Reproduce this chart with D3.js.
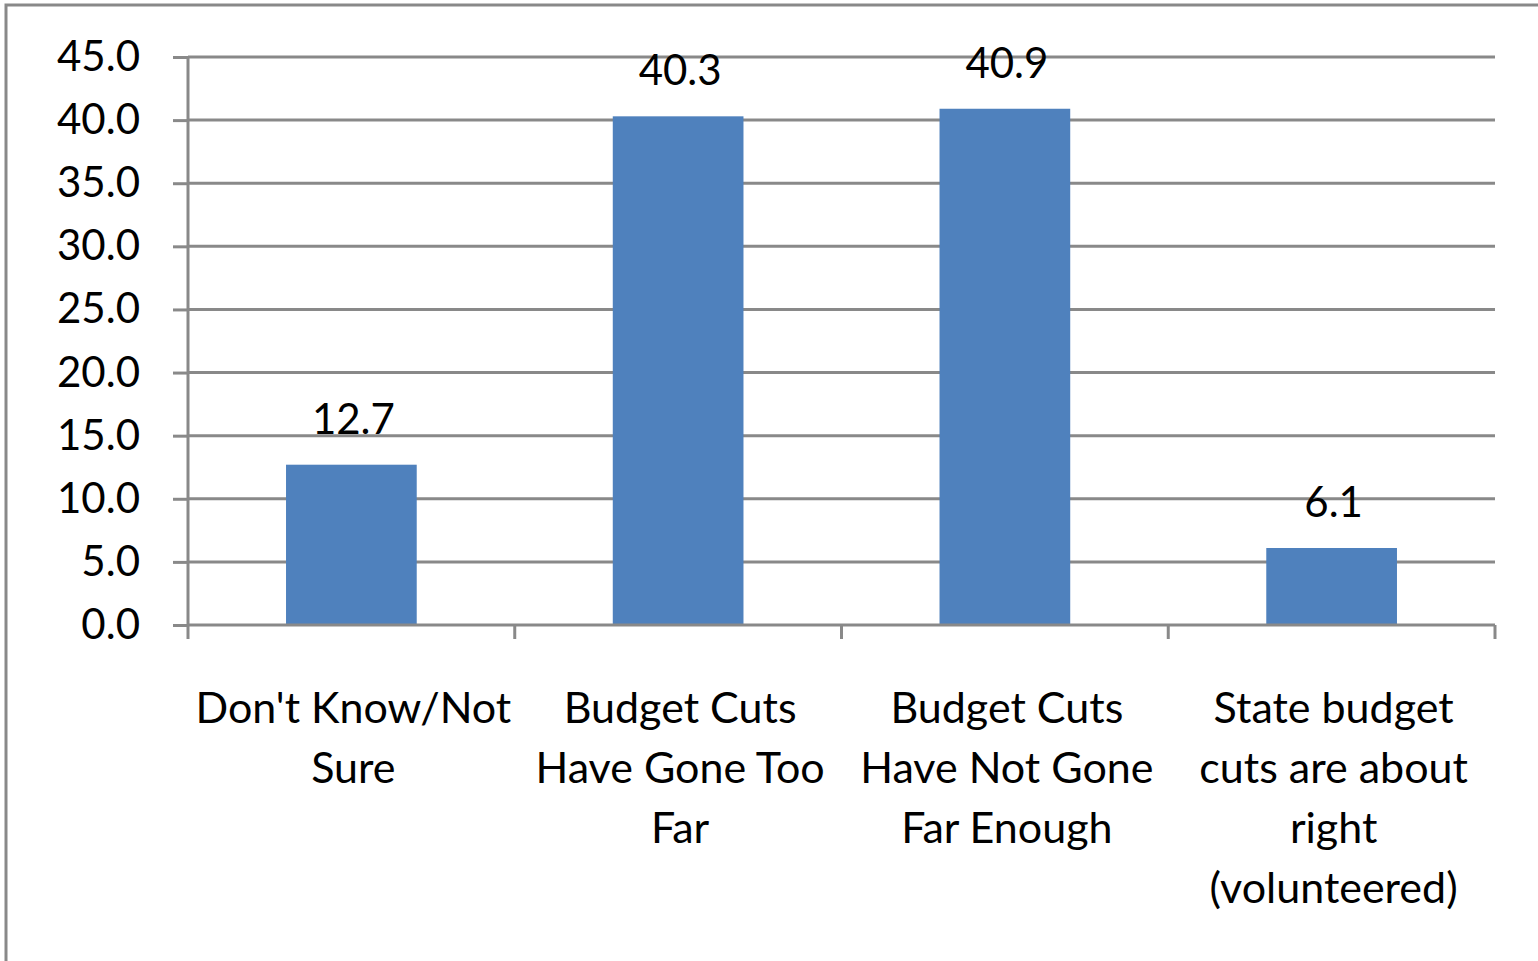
<!DOCTYPE html>
<html><head><meta charset="utf-8">
<script src="https://cdn.jsdelivr.net/npm/d3@7"></script>
<style>body{margin:0;background:#fff}svg{display:block}</style>
</head><body><svg id="c" width="1538" height="961"></svg>
<script>
const categories = [
  ["Don't Know/Not", "Sure"],
  ["Budget Cuts", "Have Gone Too", "Far"],
  ["Budget Cuts", "Have Not Gone", "Far Enough"],
  ["State budget", "cuts are about", "right", "(volunteered)"]
];
const values = [12.7, 40.3, 40.9, 6.1];
const yTicks = [0, 5, 10, 15, 20, 25, 30, 35, 40, 45];

(function () {
const svg = d3.select("#c");
const font = "Lato, 'Open Sans', sans-serif";
const grey = "#898989";
const pL = 188, pR = 1495, pT = 57, pB = 625;

// outer border
svg.append("path").attr("d", "M6,961 V5 H1538").attr("fill", "none")
  .attr("stroke", grey).attr("stroke-width", 3);

const x = d3.scaleBand().domain(d3.range(values.length)).range([pL, pR]).paddingInner(0).paddingOuter(0);
const y = d3.scaleLinear().domain([0, 45]).range([pB, pT]);

// gridlines
svg.append("g").selectAll("line").data(yTicks.filter(d => d > 0)).join("line")
  .attr("x1", pL).attr("x2", pR).attr("y1", d => y(d)).attr("y2", d => y(d))
  .attr("stroke", grey).attr("stroke-width", 3);

// bars
const bw = x.bandwidth() * 0.4;
svg.append("g").selectAll("rect").data(values).join("rect")
  .attr("x", (d, i) => x(i) + x.bandwidth() / 2 - bw / 2)
  .attr("width", bw)
  .attr("y", d => y(d)).attr("height", d => y(0) - y(d))
  .attr("fill", "#4F81BD");

// y axis
const yAxis = d3.axisLeft(y).tickValues(yTicks).tickFormat(d3.format(".1f")).tickSize(15).tickPadding(33);
const gy = svg.append("g").attr("transform", `translate(${pL},0)`).call(yAxis);
gy.select(".domain").attr("stroke", grey).attr("stroke-width", 3).attr("d", `M0,${pT}V${pB}`);
gy.selectAll(".tick line").attr("stroke", grey).attr("stroke-width", 3);
gy.selectAll(".tick text").attr("font-family", font).attr("font-size", 42).attr("fill", "#000");

// x axis
const gx = svg.append("g").attr("transform", `translate(0,${pB})`);
gx.append("line").attr("x1", pL).attr("x2", pR).attr("stroke", grey).attr("stroke-width", 3);
const bounds = d3.range(values.length + 1).map(i => i < values.length ? x(i) : pR);
gx.selectAll("line.t").data(bounds).join("line").attr("class", "t")
  .attr("x1", d => d).attr("x2", d => d).attr("y1", 0).attr("y2", 14)
  .attr("stroke", grey).attr("stroke-width", 3);

// category labels
const cl = svg.append("g").selectAll("text").data(categories).join("text")
  .attr("font-family", font).attr("font-size", 43).attr("text-anchor", "middle").attr("fill", "#000");
cl.each(function (lines, i) {
  d3.select(this).selectAll("tspan").data(lines).join("tspan")
    .attr("x", x(i) + x.bandwidth() / 2 + 2).attr("y", (d, j) => 723 + j * 60).text(d => d);
});

// value labels
svg.append("g").selectAll("text").data(values).join("text")
  .attr("x", (d, i) => x(i) + x.bandwidth() / 2 + 2)
  .attr("y", d => y(d) - 31)
  .attr("text-anchor", "middle").attr("font-family", font).attr("font-size", 42).attr("fill", "#000")
  .text(d => d.toFixed(1));
})();
</script></body></html>
